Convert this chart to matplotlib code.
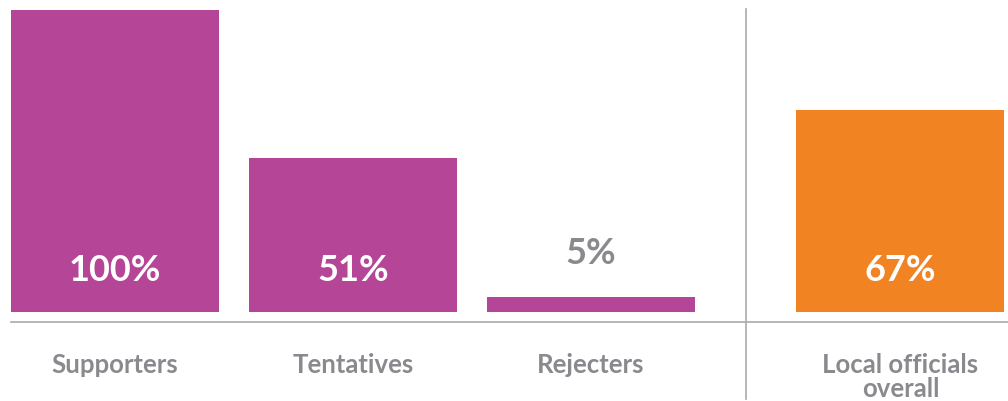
import matplotlib
matplotlib.use("Agg")
import matplotlib.pyplot as plt

# data
categories = ["Supporters", "Tentatives", "Rejecters", "Local officials\noverall"]
values = [100, 51, 5, 67]
positions = [0, 1, 2, 3.3]
colors = ["#B54596", "#B54596", "#B54596", "#F28322"]

plt.rcParams['font.family'] = ['Lato', 'DejaVu Sans']

fig = plt.figure(figsize=(10.08, 4.02), dpi=100)
ax = fig.add_axes([0, 0, 1, 1])
ax.set_xlim(-0.483, 3.752)
ax.set_ylim(-29.47, 103.64)
ax.axis('off')

bars = ax.bar(positions, values, width=0.874, color=colors, zorder=2)

# value labels
for x, v in zip(positions, values):
    if v > 20:
        ax.text(x, 14.2, f"{v}%", ha='center', va='center', color='white',
                fontsize=26, fontweight='bold')
    else:
        ax.text(x, v + 14.6, f"{v}%", ha='center', va='center', color='#8a8a8e',
                fontsize=26, fontweight='bold')

# category labels
for x, c in zip(positions, categories):
    ax.text(x, -13.3, c, ha='center', va='top', color='#8a8a8e',
            fontsize=18.5, fontweight='bold', linespacing=1.0)

# baseline and divider
ax.plot([-0.437, 3.752], [-3.31, -3.31], color='#aaaaaa', lw=1.2, zorder=1)
ax.plot([2.651, 2.651], [-28.8, 100.3], color='#aaaaaa', lw=1.2, zorder=1)

fig.savefig("out.png", dpi=100)
